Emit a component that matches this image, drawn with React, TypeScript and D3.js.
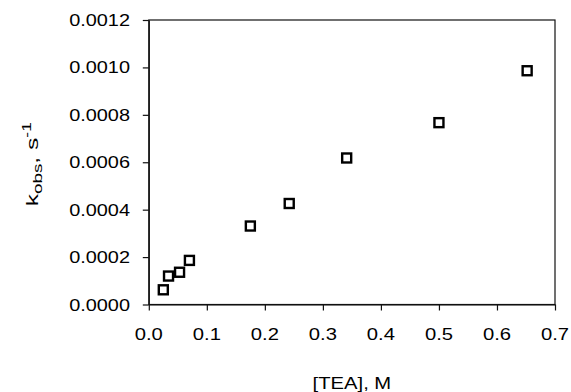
import React, { useRef, useEffect } from 'react';
import * as d3 from 'd3';

// [TEA] in M, kobs in s^-1
const teaConc: number[] = [0.025, 0.034, 0.053, 0.070, 0.175, 0.242, 0.341, 0.500, 0.652];
const kObs: number[] = [0.000062, 0.000120, 0.000136, 0.000186, 0.000331, 0.000426, 0.000618, 0.000767, 0.000986];
const xTicks: number[] = [0, 0.1, 0.2, 0.3, 0.4, 0.5, 0.6, 0.7];
const yTicks: number[] = [0, 0.0002, 0.0004, 0.0006, 0.0008, 0.0010, 0.0012];

const W = 571;
const H = 392;
const FONT = '"Liberation Sans", Arial, sans-serif';
const STRETCH = 1.19;

const App = () => {
  const svgRef = useRef<SVGSVGElement>(null);

  useEffect(() => {
    const svg = d3.select(svgRef.current);
    svg.selectAll('*').remove();

    const x = d3.scaleLinear().domain([0, 0.7]).range([148.8, 555]);
    const y = d3.scaleLinear().domain([0, 0.0012]).range([304.5, 20]);

    // frame (top + right)
    svg.append('rect')
      .attr('x', x(0))
      .attr('y', y(0.0012))
      .attr('width', x(0.7) - x(0))
      .attr('height', y(0) - y(0.0012))
      .style('fill', 'none')
      .style('stroke', '#111')
      .style('stroke-width', 1.2);

    // x axis
    const xAxis = svg.append('g')
      .attr('transform', `translate(0,${y(0)})`)
      .call(d3.axisBottom(x).tickValues(xTicks).tickSize(6).tickSizeOuter(0).tickFormat(d3.format('.1f')));
    xAxis.select('.domain').style('stroke', '#111').style('stroke-width', 1.2);
    xAxis.selectAll('line').style('stroke', '#111').style('stroke-width', 1.2);
    xAxis.selectAll('text').remove();

    // y axis
    const yAxis = svg.append('g')
      .attr('transform', `translate(${x(0)},0)`)
      .call(d3.axisLeft(y).tickValues(yTicks).tickSize(6).tickSizeOuter(0));
    yAxis.select('.domain').style('stroke', '#111').style('stroke-width', 1.2);
    yAxis.selectAll('line').style('stroke', '#111').style('stroke-width', 1.2);
    yAxis.selectAll('text').remove();

    // tick labels, slightly wide like the original
    svg.append('g')
      .selectAll('text')
      .data(xTicks)
      .enter().append('text')
      .attr('transform', d => `translate(${x(d)},340) scale(${STRETCH},1)`)
      .attr('text-anchor', 'middle')
      .style('font-family', FONT)
      .style('font-size', '17px')
      .style('fill', '#000')
      .text(d => d3.format('.1f')(d));

    svg.append('g')
      .selectAll('text')
      .data(yTicks)
      .enter().append('text')
      .attr('transform', d => `translate(130,${y(d) + 6}) scale(${STRETCH - 0.02},1)`)
      .attr('text-anchor', 'end')
      .style('font-family', FONT)
      .style('font-size', '17px')
      .style('fill', '#000')
      .text(d => d3.format('.4f')(d));

    // points
    svg.append('g')
      .selectAll('rect')
      .data(teaConc.map((c, i) => [c, kObs[i]]))
      .enter().append('rect')
      .attr('x', d => x(d[0]) - 4.5)
      .attr('y', d => y(d[1]) - 4.5)
      .attr('width', 9)
      .attr('height', 9)
      .style('fill', '#fff')
      .style('stroke', '#000')
      .style('stroke-width', 2.4);

    // x title
    svg.append('text')
      .attr('transform', `translate(${(x(0) + x(0.7)) / 2},389) scale(${STRETCH},1)`)
      .attr('text-anchor', 'middle')
      .style('font-family', FONT)
      .style('font-size', '17px')
      .text('[TEA], M');

    // y title with sub/superscript
    const yTitle = svg.append('text')
      .attr('transform', `translate(38,${(y(0) + y(0.0012)) / 2 + 2}) rotate(-90) scale(1.45,1)`)
      .attr('text-anchor', 'middle')
      .style('font-family', FONT)
      .style('font-size', '17px');
    yTitle.append('tspan').text('k');
    yTitle.append('tspan').attr('dy', 4).style('font-size', '13px').text('obs');
    yTitle.append('tspan').attr('dy', -4).text(', s');
    yTitle.append('tspan').attr('dy', -7).style('font-size', '12px').text('-1');
  }, []);

  return (
    <svg
      ref={svgRef}
      width={W}
      height={H}
      style={{ position: 'absolute', left: 0, top: 0, background: '#fff' }}
    />
  );
};

export default App;
